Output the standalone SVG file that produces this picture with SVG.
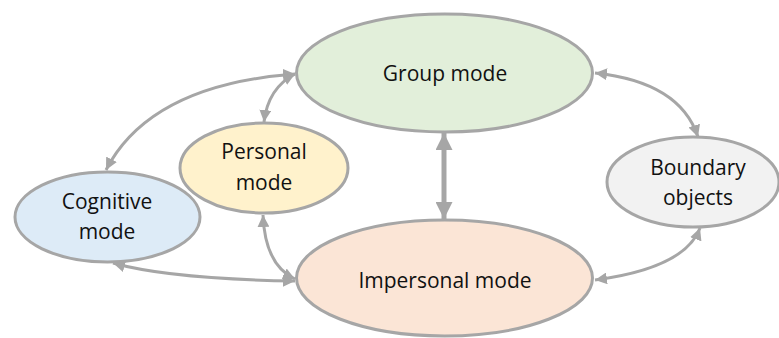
<svg xmlns="http://www.w3.org/2000/svg" width="779" height="338" viewBox="0 0 779 338">
  <defs>
    <style>
      .node { stroke: #a6a6a6; stroke-width: 3; }
      .lbl { font-family: "Open Sans", "Liberation Sans", sans-serif; font-size: 21px; fill: #111; text-anchor: middle; }
      .conn { fill: none; stroke: #a6a6a6; stroke-width: 3; marker-start: url(#ah); marker-end: url(#ah); }
      .thick { fill: none; stroke: #a6a6a6; stroke-width: 5; marker-start: url(#ahb); marker-end: url(#ahb); }
    </style>
    <marker id="ah" viewBox="0 0 12 12" refX="12" refY="6" markerWidth="12" markerHeight="12" markerUnits="userSpaceOnUse" orient="auto-start-reverse">
      <path d="M0,0 L12,6 L0,12 Z" fill="#a6a6a6"/>
    </marker>
    <marker id="ahb" viewBox="0 0 17 17" refX="17" refY="8.5" markerWidth="17" markerHeight="17" markerUnits="userSpaceOnUse" orient="auto-start-reverse">
      <path d="M0,0 L17,8.5 L0,17 Z" fill="#a6a6a6"/>
    </marker>
  </defs>

  <g id="group-mode">
    <ellipse class="node" cx="444.5" cy="73" rx="148" ry="59" fill="#e2efda"/>
    <text class="lbl" x="445" y="81">Group mode</text>
  </g>
  <g id="personal-mode">
    <ellipse class="node" cx="264" cy="168" rx="84" ry="45" fill="#fff2cc"/>
    <text class="lbl" x="264" y="159">Personal</text>
    <text class="lbl" x="264" y="190">mode</text>
  </g>
  <g id="cognitive-mode">
    <ellipse class="node" cx="107.5" cy="217" rx="92.5" ry="45" fill="#ddebf7"/>
    <text class="lbl" x="107" y="209">Cognitive</text>
    <text class="lbl" x="107" y="239">mode</text>
  </g>
  <g id="impersonal-mode">
    <ellipse class="node" cx="444.5" cy="278" rx="148" ry="58" fill="#fbe5d6"/>
    <text class="lbl" x="445" y="288">Impersonal mode</text>
  </g>
  <g id="boundary-objects">
    <ellipse class="node" cx="693" cy="182" rx="86" ry="45" fill="#f2f2f2"/>
    <text class="lbl" x="698" y="175">Boundary</text>
    <text class="lbl" x="698" y="205">objects</text>
  </g>

  <g id="connectors">
    <path class="conn" d="M106,170 Q150,85 295,74"/>
    <path class="conn" d="M264,122 Q268,88 295,74"/>
    <path class="thick" d="M444,133 L444,219"/>
    <path class="conn" d="M595,73 Q680,82 698,137"/>
    <path class="conn" d="M595,280 Q685,268 700,228"/>
    <path class="conn" d="M263,215 Q265,265 295,279"/>
    <path class="conn" d="M113,263 Q170,279 295,281"/>
  </g>
</svg>
